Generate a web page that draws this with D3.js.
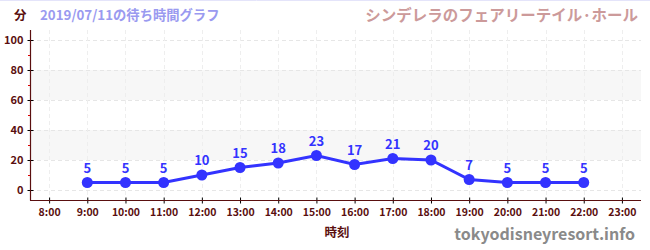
<!DOCTYPE html>
<html>
<head>
<meta charset="utf-8">
<script src="https://cdn.jsdelivr.net/npm/d3@7"></script>
<style>
  body { margin: 0; background: #fff; }
  text { font-family: "Noto Sans CJK JP", "Noto Sans", sans-serif; font-weight: bold; }
</style>
</head>
<body>
<script>
var hours = [9,10,11,12,13,14,15,16,17,18,19,20,21,22];
var waits = [5,5,5,10,15,18,23,17,21,20,7,5,5,5];
var xTicks = [8,9,10,11,12,13,14,15,16,17,18,19,20,21,22,23];
var yTicks = [0,20,40,60,80,100];
var yMinor = [10,30,50,70,90];
var bands = [[20,40],[60,80]];

var width = 650, height = 250;
var svg = d3.select("body").append("svg")
  .attr("width", width).attr("height", height);

var x = d3.scaleLinear().domain([7.5, 23.5]).range([30, 641]);
var y = d3.scaleLinear().domain([0, 100]).range([190, 40]);
var axisColor = "#5a0f0f";

// top border
svg.append("line").attr("x1",0).attr("x2",width).attr("y1",0.5).attr("y2",0.5)
  .attr("stroke","#e4e4fa");

// bands
svg.selectAll("rect.band").data(bands).enter().append("rect")
  .attr("class","band")
  .attr("x", 30).attr("width", 611)
  .attr("y", function(d){ return y(d[1]); })
  .attr("height", function(d){ return y(d[0]) - y(d[1]); })
  .attr("fill", "#f7f7f7");

// grid
svg.selectAll("line.hg").data(yTicks).enter().append("line")
  .attr("x1", 30).attr("x2", 641)
  .attr("y1", function(d){ return Math.round(y(d)) + 0.5; })
  .attr("y2", function(d){ return Math.round(y(d)) + 0.5; })
  .attr("stroke", "#e6e6e6").attr("stroke-dasharray", "4,3");
svg.selectAll("line.vg").data(xTicks).enter().append("line")
  .attr("y1", 30).attr("y2", 200)
  .attr("x1", function(d){ return Math.round(x(d)) + 0.5; })
  .attr("x2", function(d){ return Math.round(x(d)) + 0.5; })
  .attr("stroke", "#eeeeee").attr("stroke-dasharray", "4,3");

// y axis
var yAxis = svg.append("g").attr("transform", "translate(30.5,0)")
  .call(d3.axisLeft(y).tickValues(yTicks).tickSizeInner(3).tickSizeOuter(0).tickPadding(4));
yAxis.select(".domain").remove();
yAxis.selectAll(".tick line").attr("x2", 3).attr("x1", -3).attr("stroke", "#000");
yAxis.selectAll("text").attr("fill", axisColor).attr("font-size", 11).attr("font-weight","bold");

svg.selectAll("line.ym").data(yMinor).enter().append("line")
  .attr("x1", 28).attr("x2", 30)
  .attr("y1", function(d){ return Math.round(y(d)) + 0.5; })
  .attr("y2", function(d){ return Math.round(y(d)) + 0.5; })
  .attr("stroke", "#e00000");

svg.append("line").attr("x1",30.5).attr("x2",30.5).attr("y1",30).attr("y2",200.5)
  .attr("stroke", axisColor).attr("stroke-width",1.2);

// x axis
var xAxis = svg.append("g").attr("transform", "translate(0,200.5)")
  .call(d3.axisBottom(x).tickValues(xTicks).tickSizeOuter(0).tickSizeInner(3).tickPadding(5)
    .tickFormat(function(d){ return d + ":00"; }));
xAxis.select(".domain").remove();
xAxis.selectAll(".tick line").attr("y1", -3).attr("y2", 3).attr("stroke", "#000");
xAxis.selectAll("text").attr("fill", axisColor).attr("font-size", 10.5).attr("font-weight","bold");
svg.append("line").attr("x1",30).attr("x2",641).attr("y1",200.5).attr("y2",200.5)
  .attr("stroke", axisColor).attr("stroke-width",1.2);

// series
var pts = hours.map(function(h, i){ return [h, waits[i]]; });
var blue = "#3333ff";
svg.append("path").datum(pts)
  .attr("d", d3.line().x(function(d){ return x(d[0]); }).y(function(d){ return y(d[1]); }))
  .attr("fill", "none").attr("stroke", blue).attr("stroke-width", 3);
svg.selectAll("circle").data(pts).enter().append("circle")
  .attr("cx", function(d){ return x(d[0]); })
  .attr("cy", function(d){ return y(d[1]); })
  .attr("r", 5.5).attr("fill", blue);
svg.selectAll("text.lbl").data(pts).enter().append("text")
  .attr("class","lbl")
  .attr("x", function(d){ return x(d[0]); })
  .attr("y", function(d){ return y(d[1]) - 10; })
  .attr("text-anchor", "middle").attr("font-size", 13).attr("fill", blue)
  .text(function(d){ return d[1]; });

// titles
svg.append("text").attr("x", 14).attr("y", 20).attr("font-size", 12.5)
  .attr("fill", axisColor).text("分");
svg.append("text").attr("x", 40).attr("y", 20).attr("font-size", 13.3)
  .attr("fill", "#9a9af0").text("2019/07/11の待ち時間グラフ");
svg.append("text").attr("x", 638).attr("y", 21).attr("font-size", 15.5)
  .attr("text-anchor", "end").attr("fill", "#cc9a9a").text("シンデレラのフェアリーテイル·ホール");
svg.append("text").attr("x", 337).attr("y", 237).attr("font-size", 12.5)
  .attr("text-anchor", "middle").attr("fill", axisColor).text("時刻");
svg.append("text").attr("x", 635).attr("y", 240).attr("font-size", 16)
  .attr("text-anchor", "end").attr("fill", "#8a8a8a").text("tokyodisneyresort.info");
</script>
</body>
</html>
